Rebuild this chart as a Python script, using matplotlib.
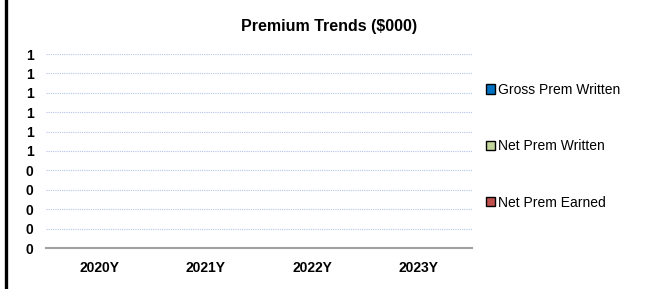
import matplotlib.pyplot as plt
import numpy as np
from matplotlib.patches import Patch
from matplotlib.ticker import FixedLocator, FuncFormatter
from matplotlib.lines import Line2D

plt.rcParams['font.family'] = ['Liberation Sans', 'DejaVu Sans']

# chart data (all series are empty / zero in the source)
years = ['2020Y', '2021Y', '2022Y', '2023Y']
gross_written = [0, 0, 0, 0]
net_written = [0, 0, 0, 0]
net_earned = [0, 0, 0, 0]
y_ticks = [0.0, 0.1, 0.2, 0.3, 0.4, 0.5, 0.6, 0.7, 0.8, 0.9, 1.0]

series = [('Gross Prem Written', gross_written, '#0070C0'),
          ('Net Prem Written', net_written, '#C4D79B'),
          ('Net Prem Earned', net_earned, '#C0504D')]


def main():
    W, H = 652, 289
    fig = plt.figure(figsize=(W / 100, H / 100), dpi=100)

    # plot area in pixel coords
    left, right, top, bottom = 46, 472, 54, 248
    ax = fig.add_axes([left / W, 1 - bottom / H, (right - left) / W, (bottom - top) / H])

    # grouped bars (zero height)
    x = np.arange(len(years))
    w = 0.22
    for i, (name, vals, col) in enumerate(series):
        ax.bar(x + (i - 1) * w, vals, w, color=col, edgecolor='black', linewidth=0.8)

    ax.set_xlim(-0.5, len(years) - 0.5)
    ax.set_ylim(0, 1)
    ax.yaxis.set_major_locator(FixedLocator(y_ticks))
    # Excel style rounding (half up)
    ax.yaxis.set_major_formatter(FuncFormatter(lambda v, p: f'{int(np.floor(v + 0.5 + 1e-9))}'))
    ax.set_xticks(x)
    ax.set_xticklabels(years)

    for lab in ax.get_xticklabels() + ax.get_yticklabels():
        lab.set_fontweight('bold')
        lab.set_fontsize(10)
    ax.tick_params(axis='both', length=0)
    ax.tick_params(axis='y', pad=9)
    ax.tick_params(axis='x', pad=9.5)

    # dotted light blue gridlines
    for t in y_ticks[1:]:
        ax.axhline(t, color='#B4C6E7', linestyle=(0, (1, 1)), linewidth=0.8, zorder=0)

    for s in ['top', 'right', 'left']:
        ax.spines[s].set_visible(False)
    ax.spines['bottom'].set_color('#A0A0A0')
    ax.spines['bottom'].set_linewidth(1.5)

    fig.text(0.505, 1 - 26 / H, 'Premium Trends ($000)', ha='center', va='center',
             fontsize=11.5, fontweight='bold')

    # legend entries placed at fixed pixel rows
    handles = [Patch(facecolor=c, edgecolor='black', linewidth=1.0) for _, _, c in series]
    leg = fig.legend(handles, [n for n, _, _ in series], loc='upper left',
                     bbox_to_anchor=(479 / W, 1 - 76 / H), frameon=False,
                     fontsize=10, handlelength=0.65, handleheight=0.65,
                     handletextpad=0.2, labelspacing=3.05, borderpad=0)

    # left border line
    fig.add_artist(Line2D([6 / W, 6 / W], [0, 1], color='black', linewidth=2.4,
                          transform=fig.transFigure))

    fig.savefig('out.png', dpi=100)


if __name__ == '__main__':
    main()
